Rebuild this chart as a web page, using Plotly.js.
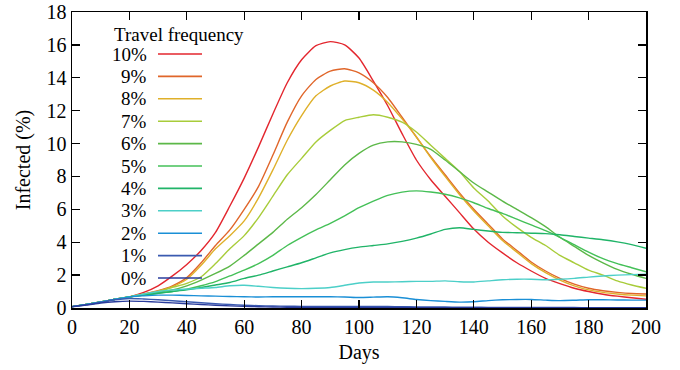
<!DOCTYPE html>
<html>
<head>
<meta charset="utf-8">
<script src="https://cdn.plot.ly/plotly-3.0.1.min.js"></script>
<style>
  html, body { margin: 0; padding: 0; background: #fff; }
  #chart { width: 680px; height: 370px; }
</style>
</head>
<body>
<div id="chart"></div>
<script>
// ---- data ----
const days = [0,5,10,15,20,25,30,35,40,45,50,55,60,65,70,75,80,85,90,95,100,105,110,115,120,125,130,135,140,145,150,155,160,165,170,175,180,185,190,195,200];

const freqLabels = ["10%","9%","8%","7%","6%","5%","4%","3%","2%","1%","0%"];

const inf10 = [0.08,0.22,0.37,0.53,0.68,0.95,1.35,1.95,2.65,3.5,4.6,6.2,7.9,9.8,11.8,13.7,15.1,15.95,16.2,16.0,15.2,13.8,12.3,10.6,9.0,7.8,6.8,5.8,4.8,4.0,3.35,2.75,2.25,1.8,1.48,1.2,1.0,0.84,0.72,0.62,0.53];
const inf9  = [0.08,0.22,0.37,0.53,0.68,0.85,1.05,1.35,1.85,2.75,3.8,4.75,6.0,7.4,9.3,11.3,12.9,13.9,14.4,14.55,14.3,13.7,12.8,11.6,10.4,9.2,8.1,7.0,6.0,5.1,4.2,3.5,2.8,2.25,1.8,1.45,1.2,1.05,0.95,0.88,0.85];
const inf8  = [0.08,0.22,0.37,0.53,0.68,0.84,1.02,1.3,1.75,2.6,3.6,4.4,5.3,6.7,8.4,10.2,11.7,12.9,13.5,13.8,13.7,13.25,12.5,11.5,10.4,9.15,8.0,6.9,5.9,5.0,4.1,3.4,2.7,2.15,1.7,1.35,1.1,0.95,0.85,0.78,0.74];
const inf7  = [0.08,0.22,0.37,0.53,0.68,0.84,1.0,1.25,1.5,1.9,2.7,3.6,4.4,5.5,6.8,8.1,9.1,10.1,10.8,11.4,11.6,11.75,11.6,11.3,10.7,9.9,9.1,8.3,7.3,6.5,5.6,4.9,4.3,3.8,3.2,2.75,2.3,2.0,1.65,1.4,1.2];
const inf6  = [0.08,0.22,0.37,0.53,0.68,0.8,0.95,1.1,1.35,1.7,2.1,2.55,3.2,3.9,4.6,5.4,6.1,6.9,7.8,8.7,9.4,9.9,10.1,10.1,9.95,9.65,9.0,8.3,7.6,7.05,6.5,6.0,5.5,4.95,4.3,3.75,3.2,2.75,2.35,2.05,1.8];
const inf5  = [0.08,0.22,0.37,0.53,0.68,0.78,0.9,1.0,1.15,1.35,1.6,1.95,2.3,2.7,3.2,3.8,4.3,4.75,5.15,5.6,6.1,6.5,6.85,7.05,7.12,7.05,6.92,6.7,6.4,6.05,5.75,5.4,5.05,4.7,4.3,3.85,3.4,3.0,2.7,2.45,2.2];
const inf4  = [0.08,0.22,0.37,0.53,0.68,0.78,0.9,1.0,1.1,1.25,1.4,1.55,1.8,2.0,2.25,2.5,2.75,3.05,3.35,3.55,3.7,3.8,3.9,4.05,4.25,4.5,4.78,4.88,4.78,4.68,4.6,4.58,4.55,4.52,4.45,4.35,4.25,4.15,4.02,3.85,3.63];
const inf3  = [0.08,0.22,0.37,0.53,0.68,0.85,1.0,1.1,1.15,1.2,1.25,1.35,1.38,1.32,1.25,1.2,1.18,1.2,1.25,1.38,1.52,1.58,1.58,1.6,1.62,1.62,1.65,1.6,1.58,1.65,1.72,1.75,1.75,1.72,1.75,1.8,1.88,1.95,2.0,2.03,2.05];
const inf2  = [0.08,0.22,0.37,0.53,0.68,0.74,0.78,0.78,0.76,0.74,0.72,0.7,0.68,0.67,0.68,0.68,0.68,0.68,0.68,0.67,0.64,0.66,0.68,0.62,0.52,0.45,0.4,0.36,0.38,0.45,0.5,0.52,0.52,0.48,0.45,0.47,0.5,0.5,0.49,0.48,0.48];
const inf1  = [0.08,0.2,0.35,0.5,0.58,0.55,0.5,0.44,0.38,0.32,0.26,0.21,0.17,0.14,0.12,0.11,0.1,0.1,0.1,0.1,0.1,0.1,0.09,0.08,0.07,0.07,0.06,0.05,0.05,0.04,0.04,0.04,0.03,0.03,0.03,0.03,0.02,0.02,0.02,0.02,0.02];
const inf0  = [0.08,0.18,0.3,0.38,0.42,0.4,0.36,0.31,0.26,0.21,0.17,0.13,0.1,0.08,0.06,0.05,0.04,0.04,0.03,0.03,0.03,0.03,0.03,0.03,0.02,0.02,0.02,0.02,0.02,0.02,0.02,0.02,0.02,0.02,0.02,0.02,0.02,0.02,0.02,0.02,0.02];

const seriesValues = [inf10, inf9, inf8, inf7, inf6, inf5, inf4, inf3, inf2, inf1, inf0];

// ---- styles ----
const lineColors = ["#e3262e","#e0662a","#dfb02a","#a8cc3a","#5cb848","#44c058","#20b468","#4ccfc8","#1a8fd6","#3a5ab0","#2a3c9c"];

const FONT = '"Liberation Serif", "Times New Roman", Times, serif';

const traces = seriesValues.map((vals, i) => ({
  x: days,
  y: vals,
  type: "scatter",
  mode: "lines",
  name: freqLabels[i],
  line: { color: lineColors[i], width: 1.4, shape: "spline", smoothing: 0.6 },
  showlegend: false,
  hoverinfo: "skip"
}));

// Custom gnuplot-style legend (label on the left, sample line on the right)
const plotW = 574, plotH = 296, plotL = 72, plotT = 12;
const px2x = px => (px - plotL) / plotW;
const py2y = py => 1 - (py - plotT) / plotH;

const annotations = [{
  xref: "paper", yref: "paper",
  x: px2x(112), y: py2y(34.5), xanchor: "left", yanchor: "middle",
  text: "Travel frequency", showarrow: false,
  font: { family: FONT, size: 19, color: "#000" }
}];
const shapes = [];
freqLabels.forEach((lab, i) => {
  const rowY = 54 + i * 22.4;
  annotations.push({
    xref: "paper", yref: "paper",
    x: px2x(149), y: py2y(rowY), xanchor: "right", yanchor: "middle",
    text: lab, showarrow: false,
    font: { family: FONT, size: 19, color: "#000" }
  });
  shapes.push({
    type: "line", xref: "paper", yref: "paper",
    x0: px2x(158), x1: px2x(202), y0: py2y(rowY), y1: py2y(rowY),
    line: { color: lineColors[i], width: 1.6 }
  });
});

const axisCommon = {
  showline: true, linecolor: "#000", linewidth: 1.5,
  mirror: "ticks", ticks: "inside", ticklen: 8, tickwidth: 1.3, tickcolor: "#000",
  showgrid: false, zeroline: false,
  tickfont: { family: FONT, size: 20, color: "#000" }
};

const layout = {
  width: 680, height: 370,
  margin: { l: plotL, r: 680 - plotL - plotW, t: plotT, b: 370 - plotT - plotH },
  paper_bgcolor: "#fff", plot_bgcolor: "#fff",
  font: { family: FONT, size: 20, color: "#000" },
  xaxis: Object.assign({}, axisCommon, {
    range: [0, 200], dtick: 20, tick0: 0,
    title: { text: "Days", font: { family: FONT, size: 20, color: "#000" }, standoff: 8 }
  }),
  yaxis: Object.assign({}, axisCommon, {
    range: [0, 18], dtick: 2, tick0: 0,
    title: { text: "Infected (%)", font: { family: FONT, size: 20, color: "#000" }, standoff: 10 }
  }),
  annotations: annotations,
  shapes: shapes,
  showlegend: false
};

Plotly.newPlot("chart", traces, layout, { displayModeBar: false, staticPlot: true });
</script>
</body>
</html>
